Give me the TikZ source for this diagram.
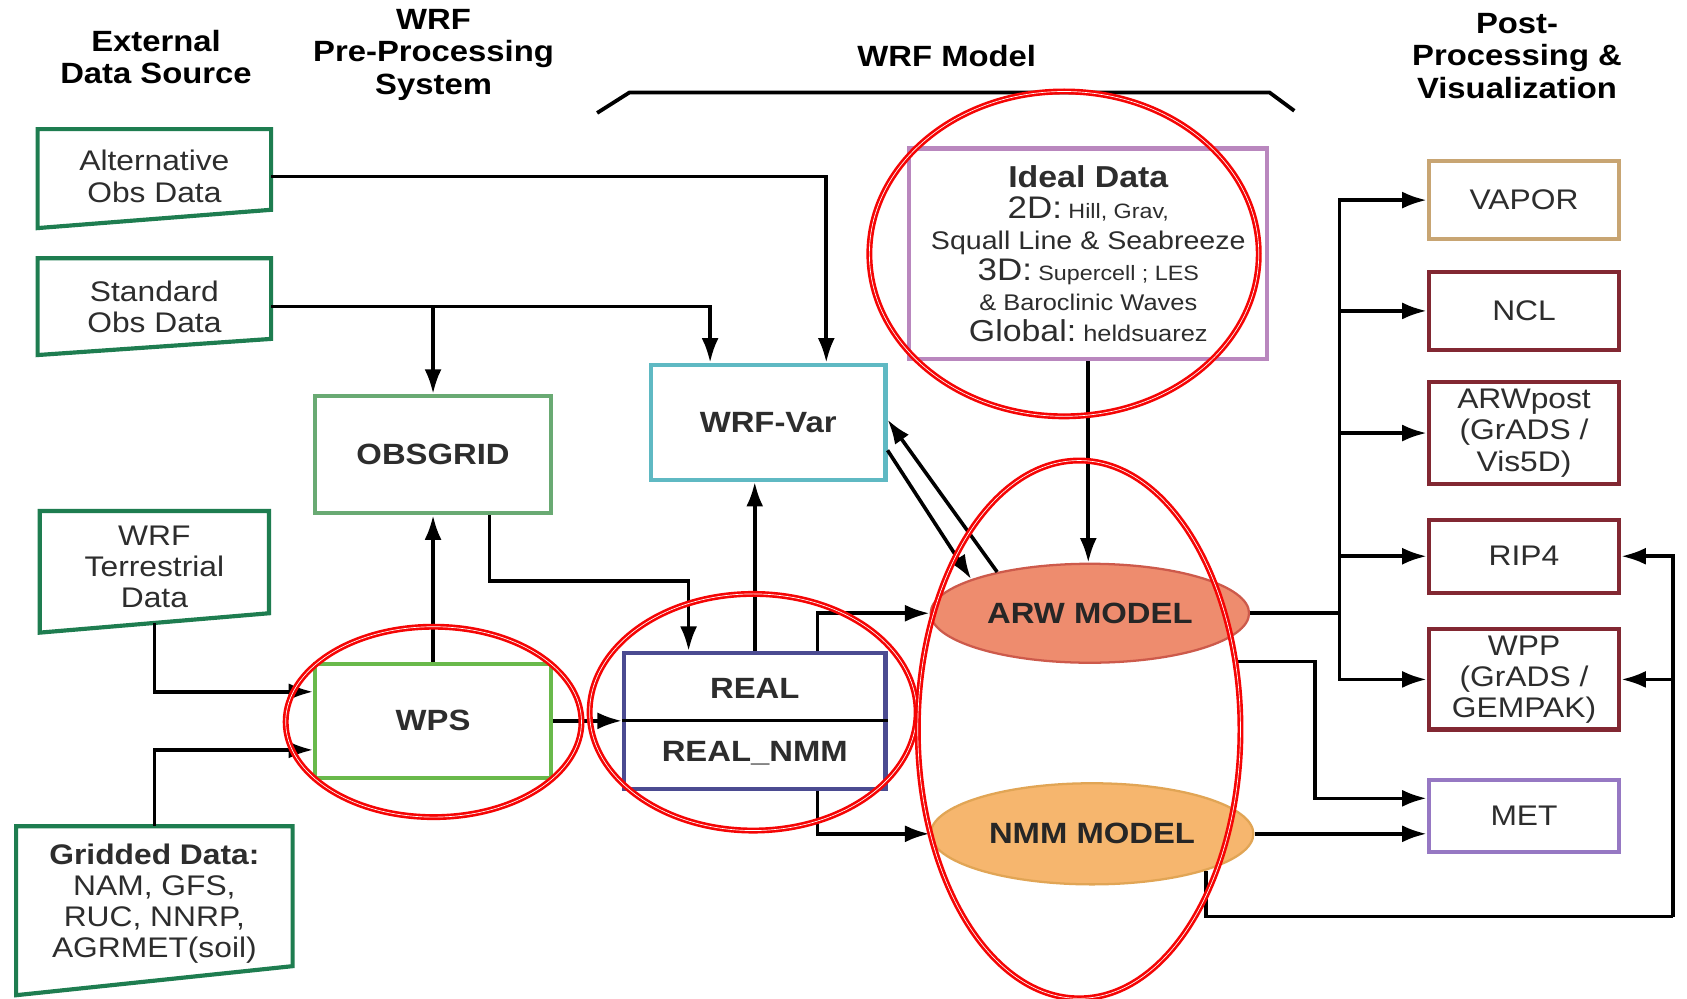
\documentclass[tikz,border=0pt]{standalone}
\usepackage{fontspec}
\setmainfont{Liberation Sans}[FakeStretch=1.12]
\usetikzlibrary{arrows.meta,calc,shapes.geometric}
\definecolor{dgreen}{RGB}{30,125,80}
\definecolor{obsgreen}{RGB}{105,170,115}
\definecolor{wpsgreen}{RGB}{105,185,75}
\definecolor{cyanc}{RGB}{95,185,195}
\definecolor{realblue}{RGB}{75,75,145}
\definecolor{idealc}{RGB}{185,135,190}
\definecolor{vaporc}{RGB}{200,165,115}
\definecolor{darkredc}{RGB}{130,40,50}
\definecolor{metc}{RGB}{150,120,195}
\definecolor{arwfill}{RGB}{238,140,110}
\definecolor{arwdraw}{RGB}{205,90,75}
\definecolor{nmmfill}{RGB}{246,182,110}
\definecolor{nmmdraw}{RGB}{225,165,85}
\definecolor{annred}{RGB}{245,5,5}
\definecolor{txtgray}{RGB}{45,45,45}
\begin{document}
\begin{tikzpicture}[x=0.02cm,y=-0.02cm,
  every node/.style={font=\fontsize{15}{16.5}\selectfont, text=txtgray, align=center, inner sep=0pt},
  title/.style={font=\bfseries\fontsize{15.5}{17}\selectfont, text=black},
  lbl/.style={font=\bfseries\fontsize{15.5}{17}\selectfont},
  dbox/.style={draw=dgreen, line width=2.2pt, line join=miter},
  pbox/.style={rectangle, draw, line width=2.2pt, fill=white},
  rbox/.style={pbox, minimum width=3.54cm},
  conn/.style={line width=1.9pt, draw=black},
  arr/.style={conn, -{Latex[length=13pt,width=9pt]}},
  redc/.style={draw=annred, line width=1.4pt, double=white, double distance=0.35pt}]
\useasboundingbox[fill=white] (0,0) rectangle (1568,928);

% titles
\node[title] (t1) at (145,53) {External\\Data Source};
\node[title] (t2) at (403,51) {WRF\\Pre-Processing\\System};
\node[title] (t3) at (880,52) {WRF Model};
\node[title] (t4) at (1410,52) {Post-\\Processing \&\\Visualization};
\draw[line width=2pt] (555,105) -- (585,86) -- (1180,86) -- (1203,103);

% external data sources
\draw[dbox] (35,120) -- (252,120) -- (252,195) -- (35,212) -- cycle;
\node[minimum width=4.34cm] (alt) at (143.5,164) {Alternative\\Obs Data};
\draw[dbox] (35,240) -- (252,240) -- (252,315) -- (35,330) -- cycle;
\node[minimum width=4.34cm] (std) at (143.5,285) {Standard\\Obs Data};
\draw[dbox] (37,475) -- (250,475) -- (250,570) -- (37,588) -- cycle;
\node[minimum width=4.26cm, minimum height=2.08cm] (terr) at (143.5,527) {WRF\\Terrestrial\\Data};
\draw[dbox] (15,768) -- (272,768) -- (272,898) -- (15,925) -- cycle;
\node[minimum width=5.14cm, minimum height=2.88cm] (grid) at (143.5,840) {\textbf{Gridded Data:}\\NAM, GFS,\\RUC, NNRP,\\AGRMET(soil)};

% processing boxes
\node[pbox, lbl, draw=obsgreen, minimum width=4.38cm, minimum height=2.18cm] (obsgrid) at (402.5,422.5) {OBSGRID};
\node[pbox, lbl, draw=wpsgreen, minimum width=4.38cm, minimum height=2.12cm] (wps) at (402.5,670) {WPS};
\node[pbox, lbl, draw=cyanc, minimum width=4.36cm, minimum height=2.14cm] (wrfvar) at (714,392.5) {WRF-Var};
\node[pbox, draw=realblue, minimum width=4.86cm, minimum height=2.52cm] (real) at (701.5,670) {};
\node[lbl] (realt1) at (701.5,640) {REAL};
\node[lbl] (realt2) at (701.5,700) {REAL\_NMM};
\node[pbox, draw=idealc, minimum width=6.66cm, minimum height=3.92cm, font=\fontsize{13}{16.3}\selectfont] (ideal) at (1011.5,236) {%
{\fontsize{16}{16}\selectfont\bfseries Ideal Data}\\
{\fontsize{16.5}{16}\selectfont 2D:}{\fontsize{11}{16}\selectfont\ Hill, Grav,}\\
{\fontsize{13.5}{16}\selectfont Squall Line \& Seabreeze}\\
{\fontsize{16.5}{16}\selectfont 3D:}{\fontsize{11}{16}\selectfont\ Supercell ; LES}\\
{\fontsize{12}{16}\selectfont \& Baroclinic Waves}\\
{\fontsize{16}{16}\selectfont Global:}{\fontsize{12}{16}\selectfont\ heldsuarez}};

% models
\node[ellipse, lbl, text=black!85, fill=arwfill, draw=arwdraw, line width=1.2pt, minimum width=5.92cm, minimum height=1.84cm] (arw) at (1013,570) {ARW MODEL};
\node[ellipse, lbl, text=black!85, fill=nmmfill, draw=nmmdraw, line width=1.2pt, minimum width=6.0cm, minimum height=1.88cm] (nmm) at (1015,775) {NMM MODEL};

% post-processing
\node[rbox, draw=vaporc, minimum height=1.44cm] (vapor) at (1416.5,186) {VAPOR};
\node[rbox, draw=darkredc, minimum height=1.44cm] (ncl) at (1416.5,289) {NCL};
\node[rbox, draw=darkredc, minimum height=1.9cm] (arwpost) at (1416.5,402.5) {ARWpost\\(GrADS /\\Vis5D)};
\node[rbox, draw=darkredc, minimum height=1.36cm] (rip) at (1416.5,517) {RIP4};
\node[rbox, draw=darkredc, minimum height=1.86cm] (wpp) at (1416.5,631.5) {WPP\\(GrADS /\\GEMPAK)};
\node[rbox, draw=metc, minimum height=1.34cm] (met) at (1416.5,758.5) {MET};

% connectors
\draw[arr] (alt.east) -| ([xshift=1.08cm]wrfvar.north);
\draw[arr] (std.east) -| (obsgrid.north);
\draw[arr] (std.east) -| ([xshift=-1.08cm]wrfvar.north);
\draw[arr] (terr.south) |- ([yshift=0.54cm]wps.west);
\draw[arr] (grid.north) |- ([yshift=-0.54cm]wps.west);
\draw[arr] (wps.north) -- (obsgrid.south);
\coordinate (j1) at (455,540);
\draw[arr] ([xshift=1.05cm]obsgrid.south) |- (j1) -| ([xshift=-1.23cm]real.north);
\draw[conn, line width=1.5pt] (real.west) -- (real.east);
\draw[arr] (wps.east) -- (real.west);
\draw[arr] (real.north) -- (real.north |- wrfvar.south);
\draw[arr] ([xshift=1.17cm]real.north) |- (arw.west);
\draw[arr] ([xshift=1.17cm]real.south) |- (nmm.west);
\draw[arr] (ideal.south) -- (ideal.south |- arw.north);
\draw[arr] (arw.156) -- ([yshift=0.05cm]wrfvar.east);
\draw[arr] ([yshift=-0.52cm]wrfvar.east) -- (arw.164);
\coordinate (bus) at (1245,570);
\draw[conn] (arw.east) -- (bus);
\draw[arr] (bus) |- (vapor.west);
\draw[arr] (bus) |- (ncl.west);
\draw[arr] (bus) |- (arwpost.west);
\draw[arr] (bus) |- (rip.west);
\draw[arr] (bus) |- (wpp.west);
\coordinate (aout) at (1150,615);
\coordinate (mj) at (1222,742);
\draw[arr] (aout) -| (mj) -- (mj -| met.west);
\draw[arr] (nmm.east) -- (nmm.east -| met.west);
\coordinate (fb) at (1555,852);
\draw[conn] (nmm.-18) |- (fb);
\draw[arr] (fb) |- (rip.east);
\draw[arr] (fb) |- (wpp.east);

% red annotation ellipses
\draw[redc] (989,236) ellipse [x radius=3.62cm, y radius=3.02cm];
\draw[redc] (403,671) ellipse [x radius=2.75cm, y radius=1.77cm];
\draw[redc] (700,662) ellipse [x radius=3.04cm, y radius=2.2cm];
\draw[redc] (1003,678) ellipse [x radius=3.0cm, y radius=5.0cm];
\end{tikzpicture}
\end{document}
